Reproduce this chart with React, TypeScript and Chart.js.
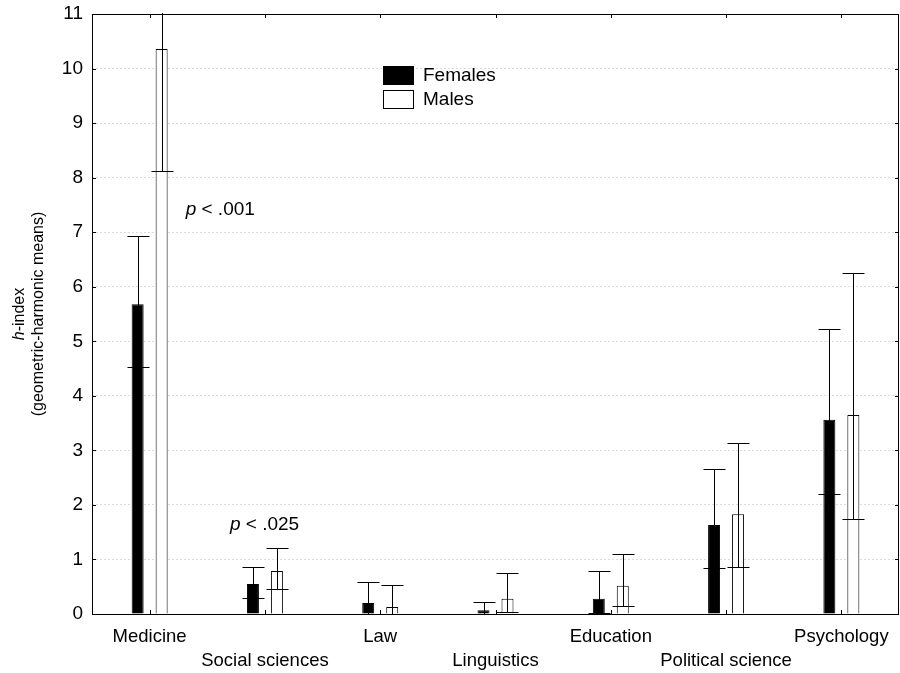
import React, { useEffect, useRef } from "react";
import { Chart, registerables } from "chart.js";

Chart.register(...registerables);

const categories = ["Medicine", "Social sciences", "Law", "Linguistics", "Education", "Political science", "Psychology"];
const femalesMean = [5.68, 0.55, 0.2, 0.07, 0.28, 1.63, 3.56];
const femalesLow = [4.53, 0.29, 0.0, 0.0, 0.02, 0.84, 2.2];
const femalesHigh = [6.93, 0.86, 0.59, 0.22, 0.78, 2.66, 5.22];
const malesMean = [10.36, 0.79, 0.13, 0.28, 0.52, 1.83, 3.65];
const malesLow = [8.13, 0.46, 0.0, 0.04, 0.15, 0.86, 1.74];
const malesHigh = [12.6, 1.21, 0.53, 0.75, 1.1, 3.14, 6.25];
const yTicks = [0, 1, 2, 3, 4, 5, 6, 7, 8, 9, 10, 11];
const annotations = [
  { cat: 0, value: 7.42, dx: 36, rest: " < .001" },
  { cat: 1, value: 1.63, dx: -35, rest: " < .025" },
];

const FONT = "'Liberation Sans', Arial, sans-serif";

export default function App() {
  const ref = useRef<HTMLCanvasElement>(null);
  useEffect(() => {
    const canvas = ref.current!;
    const lows = [femalesLow, malesLow];
    const highs = [femalesHigh, malesHigh];

    const customPlugin = {
      id: "custom",
      afterDatasetsDraw(chart: any) {
        const ctx = chart.ctx;
        const ca = chart.chartArea;
        const y = chart.scales.y;
        const x = chart.scales.x;
        // error bars
        ctx.save();
        ctx.beginPath();
        ctx.rect(ca.left, ca.top - 1, ca.right - ca.left, ca.bottom - ca.top + 2);
        ctx.clip();
        ctx.strokeStyle = "#000";
        ctx.lineWidth = 1;
        for (let d = 0; d < 2; d++) {
          const meta = chart.getDatasetMeta(d);
          meta.data.forEach((el: any, i: number) => {
            const cx = Math.round(el.x) + 0.5;
            const yl = Math.round(y.getPixelForValue(lows[d][i])) + 0.5;
            const yh = Math.round(y.getPixelForValue(highs[d][i])) + 0.5;
            ctx.beginPath();
            ctx.moveTo(cx, yl);
            ctx.lineTo(cx, yh);
            ctx.moveTo(cx - 11, yl);
            ctx.lineTo(cx + 11, yl);
            ctx.moveTo(cx - 11, yh);
            ctx.lineTo(cx + 11, yh);
            ctx.stroke();
          });
        }
        ctx.restore();

        // frame
        ctx.save();
        ctx.strokeStyle = "#000";
        ctx.lineWidth = 1;
        ctx.strokeRect(Math.round(ca.left) + 0.5, Math.round(ca.top) + 0.5, Math.round(ca.right - ca.left) - 1, Math.round(ca.bottom - ca.top));
        ctx.beginPath();
        yTicks.forEach((t) => {
          const py = Math.round(y.getPixelForValue(t)) + 0.5;
          ctx.moveTo(ca.left, py);
          ctx.lineTo(ca.left + 4, py);
          ctx.moveTo(ca.right, py);
          ctx.lineTo(ca.right - 4, py);
        });
        categories.forEach((_, i) => {
          const px = Math.round(x.getPixelForValue(i)) + 0.5;
          ctx.moveTo(px, ca.top);
          ctx.lineTo(px, ca.top + 4);
          ctx.moveTo(px, ca.bottom);
          ctx.lineTo(px, ca.bottom - 4);
        });
        ctx.stroke();
        ctx.restore();

        // annotations
        ctx.save();
        ctx.fillStyle = "#000";
        ctx.textBaseline = "middle";
        annotations.forEach((a) => {
          const px = x.getPixelForValue(a.cat) + a.dx;
          const py = y.getPixelForValue(a.value);
          ctx.font = `italic 19px ${FONT}`;
          ctx.textAlign = "left";
          ctx.fillText("p", px, py);
          const w = ctx.measureText("p").width;
          ctx.font = `19px ${FONT}`;
          ctx.fillText(a.rest, px + w, py);
        });

        // legend
        const lx = 383;
        const items = [
          { label: "Females", fill: "#000", top: 66 },
          { label: "Males", fill: "#fff", top: 90 },
        ];
        items.forEach((it) => {
          ctx.fillStyle = it.fill;
          ctx.fillRect(lx, it.top, 30, 18);
          ctx.strokeStyle = "#000";
          ctx.lineWidth = 1;
          ctx.strokeRect(lx + 0.5, it.top + 0.5, 30, 18);
          ctx.fillStyle = "#000";
          ctx.font = `19px ${FONT}`;
          ctx.textAlign = "left";
          ctx.fillText(it.label, lx + 40, it.top + 10);
        });

        // y title
        const cy = (ca.top + ca.bottom) / 2;
        ctx.translate(20, cy);
        ctx.rotate(-Math.PI / 2);
        ctx.textAlign = "left";
        ctx.font = `italic 16px ${FONT}`;
        const hW = ctx.measureText("h").width;
        ctx.font = `16px ${FONT}`;
        const restW = ctx.measureText("-index").width;
        const start = -(hW + restW) / 2;
        ctx.font = `italic 16px ${FONT}`;
        ctx.fillText("h", start, 0);
        ctx.font = `16px ${FONT}`;
        ctx.fillText("-index", start + hW, 0);
        ctx.textAlign = "center";
        ctx.fillText("(geometric-harmonic means)", 0, 19);
        ctx.restore();
      },
    };

    const chart = new Chart(canvas, {
      type: "bar",
      data: {
        labels: categories.map((c, i) => (i % 2 === 0 ? [c, ""] : ["", c])),
        datasets: [
          {
            label: "Females",
            data: femalesMean,
            backgroundColor: "#000",
            borderColor: "#000",
            borderWidth: 1,
            categoryPercentage: 0.416,
            barPercentage: 0.5,
          },
          {
            label: "Males",
            data: malesMean,
            backgroundColor: "#fff",
            borderColor: "#000",
            borderWidth: 1,
            categoryPercentage: 0.416,
            barPercentage: 0.5,
          },
        ],
      },
      options: {
        responsive: false,
        animation: false,
        layout: { padding: { top: 14, right: 1, left: 0, bottom: 0 } },
        plugins: { legend: { display: false }, tooltip: { enabled: false } },
        scales: {
          x: {
            grid: { display: false, drawTicks: false },
            border: { display: false },
            ticks: {
              color: "#000",
              font: { family: FONT, size: 18.5, lineHeight: 1.3 },
              padding: 11,
              maxRotation: 0,
              autoSkip: false,
            },
            afterFit(scale: any) {
              scale.height = 59;
              scale.paddingLeft = 0;
              scale.paddingRight = 0;
            },
          },
          y: {
            min: 0,
            max: 11,
            grid: { color: "#dcdcdc", drawTicks: false, lineWidth: 1 },
            border: { display: false, dash: [2, 2] },
            ticks: {
              stepSize: 1,
              color: "#000",
              font: { family: FONT, size: 19 },
              padding: 9,
            },
            afterFit(scale: any) {
              scale.width = 92;
              scale.paddingTop = 0;
              scale.paddingBottom = 0;
            },
          },
        },
      } as any,
      plugins: [customPlugin],
    });
    return () => chart.destroy();
  }, []);

  return (
    <div style={{ position: "absolute", left: 0, top: 0, width: 900, height: 673, background: "#fff" }}>
      <canvas ref={ref} width={900} height={673} />
    </div>
  );
}
